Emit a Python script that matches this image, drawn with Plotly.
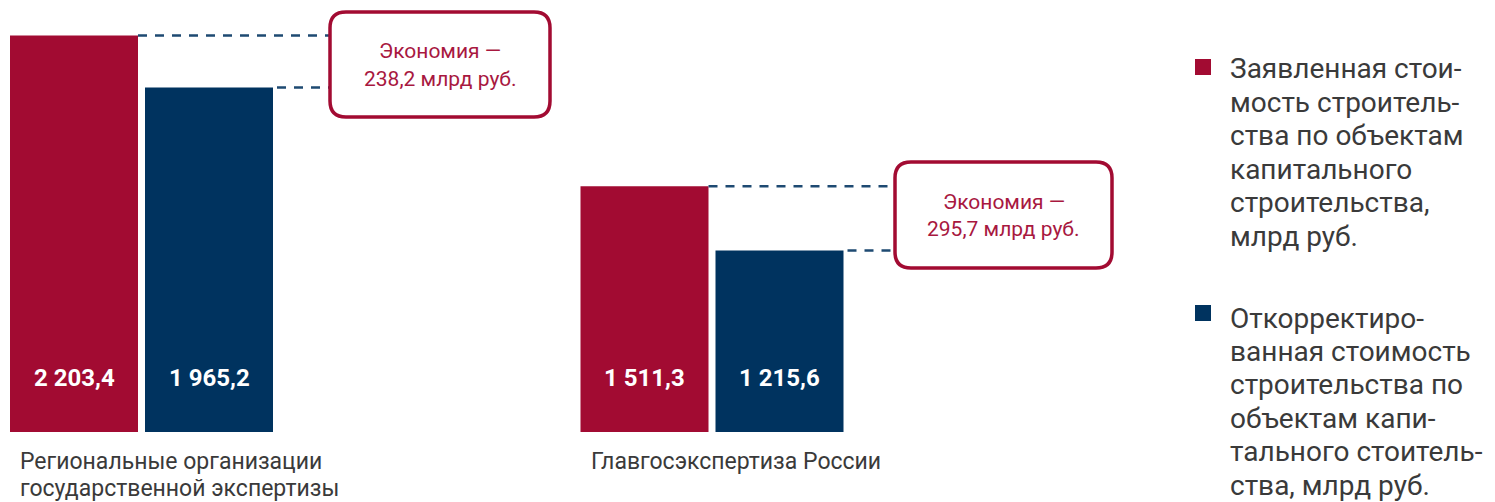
import plotly.graph_objects as go

# ---------------- data ----------------
categories = ["Региональные организации<br>государственной экспертизы", "Главгосэкспертиза России"]
declared = [2203.4, 1511.3]          # Заявленная стоимость
corrected = [1965.2, 1215.6]         # Откорректированная стоимость
declared_labels = ["2 203,4", "1 511,3"]
corrected_labels = ["1 965,2", "1 215,6"]
savings_labels = ["238,2 млрд руб.", "295,7 млрд руб."]
savings_title = "Экономия —"
legend_names = [
    "Заявленная стои-<br>мость строитель-<br>ства по объектам<br>капитального<br>строительства,<br>млрд руб.",
    "Откорректиро-<br>ванная стоимость<br>строительства по<br>объектам капи-<br>тального стоитель-<br>ства, млрд руб.",
]

# ---------------- style / layout constants ----------------
RED = "#A20B32"
BLUE = "#00335F"
DASH = "#1E4A72"
BOX_TEXT = "#A8183F"
TEXT = "#3A3A3A"
FONT = "Roboto"

S = 8                      # page body margin (screen offset of the figure)
W, H = 1495 - S, 502 - S   # figure size
PLOT_TOP_S, PLOT_BOT_S = 10, 432   # plot area in screen pixels
M_T, M_B = PLOT_TOP_S - S, H - (PLOT_BOT_S - S)
PLOT_H = PLOT_BOT_S - PLOT_TOP_S
PX_PER_CAT = 570.5
CAT0_S = 141
X_RANGE = [-(CAT0_S - S) / PX_PER_CAT, (W - (CAT0_S - S)) / PX_PER_CAT]
Y_RANGE = [382, 2321]
BAR_W = 128 / PX_PER_CAT
RED_OFF = -131 / PX_PER_CAT
BLUE_OFF = 4 / PX_PER_CAT


def sx_to_x(sx):
    return X_RANGE[0] + (sx - S) / PX_PER_CAT


def sx_to_paper(sx):
    return (sx - S) / W


def sy_to_paper(sy):
    return (PLOT_BOT_S - sy) / PLOT_H


xs = list(range(len(categories)))

fig = go.Figure()
fig.add_trace(go.Bar(x=xs, y=declared, width=BAR_W, offset=RED_OFF,
                     marker=dict(color=RED, line=dict(width=0)),
                     name="Заявленная стоимость", hoverinfo="y"))
fig.add_trace(go.Bar(x=xs, y=corrected, width=BAR_W, offset=BLUE_OFF,
                     marker=dict(color=BLUE, line=dict(width=0)),
                     name="Откорректированная стоимость", hoverinfo="y"))

shapes = []
annotations = []

# callout boxes (screen pixel geometry)
boxes = [(330, 12, 550, 117), (895, 162, 1112, 268)]


def rounded_path(x0, y0, x1, y1, r):
    X, Y = sx_to_paper, sy_to_paper
    pts = [
        f"M {X(x0 + r)},{Y(y0)}",
        f"L {X(x1 - r)},{Y(y0)}",
        f"Q {X(x1)},{Y(y0)} {X(x1)},{Y(y0 + r)}",
        f"L {X(x1)},{Y(y1 - r)}",
        f"Q {X(x1)},{Y(y1)} {X(x1 - r)},{Y(y1)}",
        f"L {X(x0 + r)},{Y(y1)}",
        f"Q {X(x0)},{Y(y1)} {X(x0)},{Y(y1 - r)}",
        f"L {X(x0)},{Y(y0 + r)}",
        f"Q {X(x0)},{Y(y0)} {X(x0 + r)},{Y(y0)}",
        "Z",
    ]
    return " ".join(pts)


dash_line = dict(color=DASH, width=2.5, dash="9px,8px")
for i, x in enumerate(xs):
    bx0, by0, bx1, by1 = boxes[i]
    # dashed leader lines from bar tops to the box
    shapes.append(dict(type="line", xref="x", yref="y",
                       x0=x + RED_OFF + BAR_W, x1=sx_to_x(bx0), y0=declared[i], y1=declared[i],
                       line=dash_line, layer="above"))
    shapes.append(dict(type="line", xref="x", yref="y",
                       x0=x + BLUE_OFF + BAR_W + 4 / PX_PER_CAT, x1=sx_to_x(bx0),
                       y0=corrected[i], y1=corrected[i],
                       line=dash_line, layer="above"))
    shapes.append(dict(type="path", xref="paper", yref="paper",
                       path=rounded_path(bx0, by0, bx1, by1, 16),
                       fillcolor="white", line=dict(color=RED, width=3.5), layer="above"))
    cx = sx_to_paper((bx0 + bx1) / 2)
    cy = (by0 + by1) / 2
    annotations.append(dict(xref="paper", yref="paper", x=cx, y=sy_to_paper(cy - 13),
                            text=savings_title, showarrow=False,
                            font=dict(family=FONT, size=21, color=BOX_TEXT),
                            xanchor="center", yanchor="middle"))
    annotations.append(dict(xref="paper", yref="paper", x=cx, y=sy_to_paper(cy + 14),
                            text=savings_labels[i], showarrow=False,
                            font=dict(family=FONT, size=21, color=BOX_TEXT),
                            xanchor="center", yanchor="middle"))
    # value labels inside bars
    annotations.append(dict(xref="x", yref="paper", x=x + RED_OFF + BAR_W / 2, y=sy_to_paper(378),
                            text=f"<b>{declared_labels[i]}</b>", showarrow=False,
                            font=dict(family=FONT, size=24, color="white"),
                            xanchor="center", yanchor="middle"))
    annotations.append(dict(xref="x", yref="paper", x=x + BLUE_OFF + BAR_W / 2, y=sy_to_paper(378),
                            text=f"<b>{corrected_labels[i]}</b>", showarrow=False,
                            font=dict(family=FONT, size=24, color="white"),
                            xanchor="center", yanchor="middle"))
    # category labels (one annotation per line for exact line spacing)
    for j, line in enumerate(categories[i].split("<br>")):
        annotations.append(dict(xref="x", yref="paper", x=x + RED_OFF, xshift=8,
                                y=sy_to_paper(461 + 27 * j),
                                text=line, showarrow=False, align="left",
                                font=dict(family=FONT, size=23, color=TEXT),
                                xanchor="left", yanchor="middle"))

# custom legend
legend_items = [(RED, 59, 69, legend_names[0]), (BLUE, 305, 318, legend_names[1])]
for color, sq_top, first_line, name in legend_items:
    shapes.append(dict(type="rect", xref="paper", yref="paper",
                       x0=sx_to_paper(1195), x1=sx_to_paper(1211),
                       y0=sy_to_paper(sq_top), y1=sy_to_paper(sq_top + 16),
                       fillcolor=color, line=dict(width=0)))
    for j, line in enumerate(name.split("<br>")):
        annotations.append(dict(xref="paper", yref="paper", x=sx_to_paper(1228),
                                y=sy_to_paper(first_line + 33.4 * j),
                                text=line, showarrow=False, align="left",
                                font=dict(family=FONT, size=28, color=TEXT),
                                xanchor="left", yanchor="middle"))

fig.update_layout(
    width=W, height=H,
    margin=dict(l=0, r=0, t=M_T, b=M_B, pad=0),
    paper_bgcolor="white", plot_bgcolor="white",
    showlegend=False, barmode="overlay",
    xaxis=dict(visible=False, range=X_RANGE, fixedrange=True),
    yaxis=dict(visible=False, range=Y_RANGE, fixedrange=True),
    shapes=shapes, annotations=annotations,
    font=dict(family=FONT, color=TEXT),
)

fig.write_html("out.html")
